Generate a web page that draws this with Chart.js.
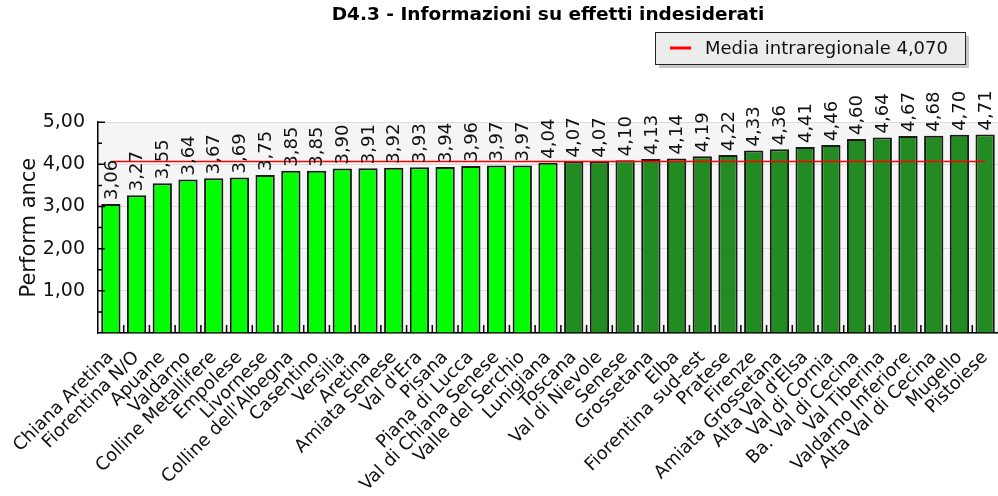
<!DOCTYPE html>
<html lang="it">
<head>
<meta charset="UTF-8">
<title>D4.3 - Informazioni su effetti indesiderati</title>
<script src="https://cdn.jsdelivr.net/npm/chart.js"></script>
<style>
    body { margin: 0; background: #fff; }
    .box { width: 998px; height: 496px; }
</style>
</head>
<body>
<div class="box"><canvas id="grafico"></canvas></div>

<script>
// dati
var zone = [
    "Chiana Aretina", "Fiorentina N/O", "Apuane", "Valdarno", "Colline Metallifere",
    "Empolese", "Livornese", "Colline dell'Albegna", "Casentino", "Versilia",
    "Aretina", "Amiata Senese", "Val d'Era", "Pisana", "Piana di Lucca",
    "Val di Chiana Senese", "Valle del Serchio", "Lunigiana", "Toscana", "Val di Nievole",
    "Senese", "Grossetana", "Elba", "Fiorentina sud-est", "Pratese",
    "Firenze", "Amiata Grossetana", "Alta Val d'Elsa", "Val di Cornia", "Ba. Val di Cecina",
    "Val Tiberina", "Valdarno Inferiore", "Alta Val di Cecina", "Mugello", "Pistoiese"
];
var performance = [
    3.06, 3.27, 3.55, 3.64, 3.67,
    3.69, 3.75, 3.85, 3.85, 3.90,
    3.91, 3.92, 3.93, 3.94, 3.96,
    3.97, 3.97, 4.04, 4.07, 4.07,
    4.10, 4.13, 4.14, 4.19, 4.22,
    4.33, 4.36, 4.41, 4.46, 4.60,
    4.64, 4.67, 4.68, 4.70, 4.71
];
var media = 4.070;
var yTicks = [1, 2, 3, 4, 5];

var verdeChiaro = '#00ff00';
var verdeScuro = '#228b22';
var FONT = 'DejaVu Sans';

function virgola(v, dec) {
    return v.toFixed(dec).replace('.', ',');
}

// colore: sotto la media verde chiaro, sopra verde scuro
var coloriBarre = performance.map(function (v) {
    return v < media ? verdeChiaro : verdeScuro;
});
var lineaMedia = zone.map(function () { return media; });

// etichette verticali sopra le barre
var etichetteValori = {
    id: 'etichetteValori',
    afterDatasetsDraw: function (chart) {
        var ctx = chart.ctx;
        var meta = chart.getDatasetMeta(0);
        var font = { string: '18px "' + FONT + '"', lineHeight: 22 };
        meta.data.forEach(function (bar, i) {
            Chart.helpers.renderText(ctx, virgola(performance[i], 2), 0, 0, font, {
                translation: [bar.x + 1, bar.y - 4],
                rotation: -Math.PI / 2,
                textAlign: 'left',
                textBaseline: 'middle',
                color: '#111'
            });
        });
    }
};

// sfondo grigio dell'area, tacche interne e legenda
var areaGrafico = {
    id: 'areaGrafico',
    beforeDraw: function (chart) {
        var a = chart.chartArea;
        var ctx = chart.ctx;
        ctx.save();
        ctx.fillStyle = '#f5f5f5';
        ctx.fillRect(a.left, a.top, a.right - a.left, a.bottom - a.top);
        ctx.restore();
    },
    afterDraw: function (chart) {
        var a = chart.chartArea;
        var ctx = chart.ctx;
        var y = chart.scales.y;
        var x = chart.scales.x;
        ctx.save();
        ctx.strokeStyle = '#000';
        ctx.lineWidth = 1.5;
        ctx.beginPath();
        for (var v = 0.5; v <= 5; v += 0.5) {
            var py = y.getPixelForValue(v);
            ctx.moveTo(a.left, py);
            ctx.lineTo(a.left + (v % 1 === 0 ? 7 : 4), py);
        }
        for (var i = 1; i < zone.length; i++) {
            var px = (x.getPixelForTick(i - 1) + x.getPixelForTick(i)) / 2;
            ctx.moveTo(px, a.bottom);
            ctx.lineTo(px, a.bottom - 8);
        }
        ctx.stroke();
        ctx.restore();

        // legenda con riquadro
        var testo = chart.data.datasets[1].label;
        var lx = 655, ly = 32, lw = 310, lh = 32;
        ctx.save();
        ctx.fillStyle = '#c8c8c8';
        ctx.fillRect(lx + 4, ly + 4, lw, lh);
        ctx.fillStyle = '#ececec';
        ctx.fillRect(lx, ly, lw, lh);
        ctx.strokeStyle = '#222';
        ctx.lineWidth = 1;
        ctx.strokeRect(lx + 0.5, ly + 0.5, lw, lh);
        ctx.strokeStyle = '#ff0000';
        ctx.lineWidth = 3;
        ctx.beginPath();
        ctx.moveTo(lx + 15, ly + lh / 2);
        ctx.lineTo(lx + 36, ly + lh / 2);
        ctx.stroke();
        ctx.fillStyle = '#111';
        ctx.font = '18px "' + FONT + '"';
        ctx.textBaseline = 'middle';
        ctx.fillText(testo, lx + 50, ly + lh / 2 + 1);
        ctx.restore();
    }
};

new Chart(document.getElementById('grafico'), {
    type: 'bar',
    data: {
        labels: zone,
        datasets: [
            {
                label: 'Performance',
                data: performance,
                backgroundColor: coloriBarre,
                borderColor: '#1a1a1a',
                borderWidth: 2,
                categoryPercentage: 1,
                barPercentage: 0.75,
                order: 2
            },
            {
                type: 'line',
                label: 'Media intraregionale ' + virgola(media, 3),
                data: lineaMedia,
                borderColor: '#ff0000',
                borderWidth: 1.5,
                pointRadius: 0,
                fill: false,
                order: 1
            }
        ]
    },
    options: {
        responsive: true,
        maintainAspectRatio: false,
        animation: false,
        layout: { padding: { left: 0, top: 0, bottom: 0, right: -3 } },
        plugins: {
            legend: { display: false },
            tooltip: { enabled: false },
            title: {
                display: true,
                fullSize: false,
                text: 'D4.3 - Informazioni su effetti indesiderati',
                color: '#000',
                font: { family: FONT, size: 18.5, weight: 'bold' },
                padding: { top: 4, bottom: 96 }
            }
        },
        scales: {
            x: {
                grid: { display: false },
                border: { display: true, color: '#000', width: 1.5 },
                ticks: {
                    autoSkip: false,
                    maxRotation: 45,
                    minRotation: 45,
                    color: '#111',
                    padding: 6,
                    font: { family: FONT, size: 18 }
                },
                afterFit: function (s) {
                    s.height = 163;
                    s.paddingRight = 0;
                }
            },
            y: {
                min: 0,
                max: 5,
                afterBuildTicks: function (s) {
                    s.ticks = [0].concat(yTicks).map(function (v) { return { value: v }; });
                },
                grid: { color: '#dcdcdc', drawTicks: false },
                border: { display: true, color: '#000', width: 1.5 },
                ticks: {
                    color: '#111',
                    padding: 13,
                    font: { family: FONT, size: 19 },
                    callback: function (v) { return v === 0 ? '' : virgola(v, 2); }
                },
                title: {
                    display: true,
                    text: 'Perform ance',
                    color: '#111',
                    font: { family: FONT, size: 21 },
                    padding: { top: 17, bottom: 0 }
                },
                afterFit: function (s) { s.width = 98; }
            }
        }
    },
    plugins: [areaGrafico, etichetteValori]
});
</script>
</body>
</html>
